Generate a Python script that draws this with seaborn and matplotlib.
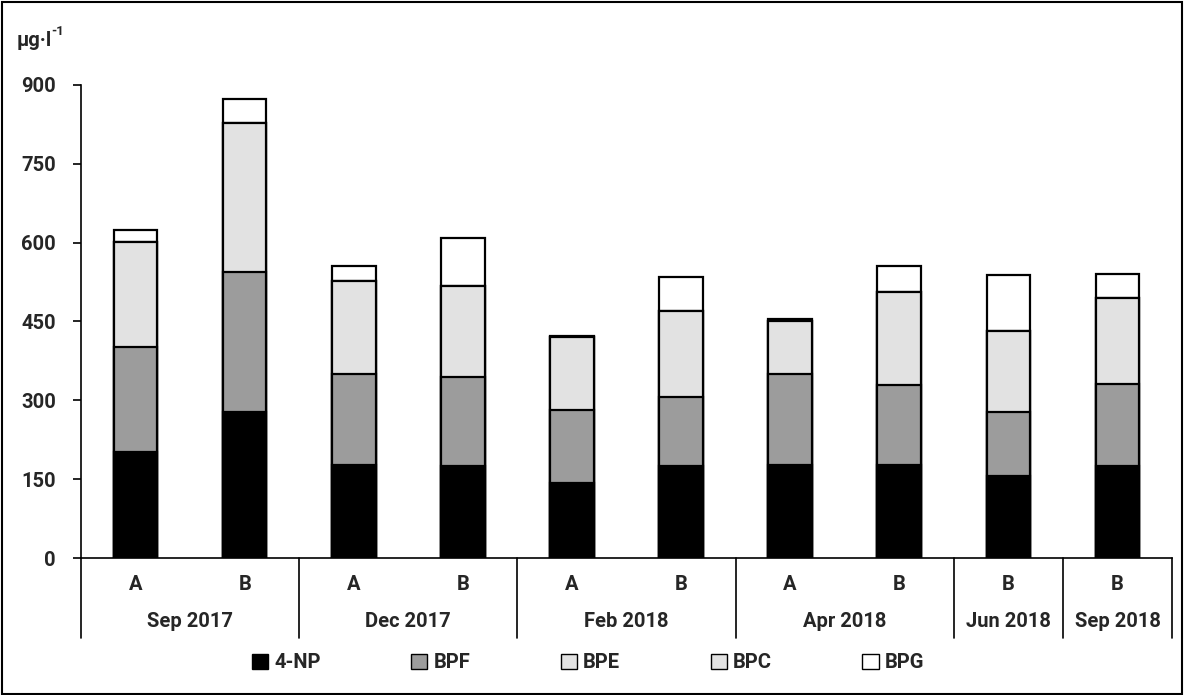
import matplotlib
matplotlib.use("Agg")
import matplotlib.pyplot as plt
import matplotlib.transforms as mtransforms
from matplotlib.patches import Patch, Rectangle
from matplotlib.lines import Line2D
import numpy as np
import pandas as pd
import seaborn as sns

# Sampling campaigns and sites
periods = ["Sep 2017", "Sep 2017", "Dec 2017", "Dec 2017", "Feb 2018", "Feb 2018",
           "Apr 2018", "Apr 2018", "Jun 2018", "Sep 2018"]
sites = ["A", "B", "A", "B", "A", "B", "A", "B", "B", "B"]

# Concentrations (µg/l) per compound
np4 = [202, 278, 177, 175, 142, 175, 177, 177, 156, 176]
bpf = [199, 267, 174, 170, 139, 131, 174, 153, 122, 156]
bpe = [200, 282, 177, 173, 139, 164, 99, 177, 153, 162]
bpc = [0, 0, 0, 0, 0, 0, 0, 0, 0, 0]
bpg = [23, 46, 28, 90, 2, 64, 4, 49, 107, 46]

series_names = ["4-NP", "BPF", "BPE", "BPC", "BPG"]
series_vals = [np4, bpf, bpe, bpc, bpg]
series_colors = ["#000000", "#9c9c9c", "#e2e2e2", "#e2e2e2", "#ffffff"]

sns.set_theme(style="white")
plt.rcParams["font.family"] = ["Roboto", "DejaVu Sans"]
plt.rcParams["font.weight"] = "bold"

FS = 14.5

fig = plt.figure(figsize=(11.84, 6.95), dpi=100)
ax = fig.add_axes([81 / 1184, 1 - 558 / 695, (1172 - 81) / 1184, (558 - 85) / 695])

keys = [f"{p} {s}" for p, s in zip(periods, sites)]
df = pd.DataFrame({"key": keys})
stack = np.cumsum(np.array(series_vals, dtype=float), axis=0)

# Draw stacked bars from the top layer down so each lower segment overlays
for i in range(len(series_names) - 1, -1, -1):
    df["val"] = stack[i]
    sns.barplot(data=df, x="key", y="val", order=keys, color=series_colors[i],
                saturation=1, edgecolor="black", linewidth=1.6, width=0.4,
                errorbar=None, ax=ax)

ax.set_xlim(-0.5, len(keys) - 0.5)
ax.set_ylim(0, 900)
ax.set_yticks(np.arange(0, 901, 150))
ax.tick_params(axis="y", labelsize=FS, length=6, width=1.2, color="black",
               left=True, pad=12)
for lab in ax.get_yticklabels():
    lab.set_fontweight("bold")
ax.set_xticks([])
ax.set_xlabel("")
ax.set_ylabel("")
for s in ["top", "right"]:
    ax.spines[s].set_visible(False)
for s in ["left", "bottom"]:
    ax.spines[s].set_color("black")
    ax.spines[s].set_linewidth(1.2)

trans = mtransforms.blended_transform_factory(ax.transData, ax.transAxes)

# Site letters
for i, s in enumerate(sites):
    ax.text(i, -0.055, s, transform=trans, ha="center", va="center",
            fontsize=FS, fontweight="bold")

# Period labels and separators
groups = []
for i, p in enumerate(periods):
    if groups and groups[-1][0] == p:
        groups[-1][2] = i
    else:
        groups.append([p, i, i])
bounds = [-0.5]
for name, a, b in groups:
    ax.text((a + b) / 2, -0.135, name, transform=trans, ha="center", va="center",
            fontsize=FS, fontweight="bold")
    bounds.append(b + 0.5)
for xb in bounds:
    ax.add_line(Line2D([xb, xb], [0, -0.169], transform=trans, color="black",
                       linewidth=1.2, clip_on=False))

# Unit label
unit = fig.text(17 / 1184, 1 - 40 / 695, "µg·l", ha="left", va="center",
                fontsize=14.5, fontweight="bold")
ax.annotate("-1", xy=(0.97, 0.97), xycoords=unit, ha="left", va="center",
            fontsize=9.5, fontweight="bold")

# Legend
handles = [Patch(facecolor=c, edgecolor="black", linewidth=1.0)
           for c in series_colors]
fig.legend(handles, series_names, loc="center", bbox_to_anchor=(588 / 1184, 1 - 663 / 695),
           ncol=5, frameon=False, handlelength=0.8, handleheight=0.8,
           handletextpad=0.3, columnspacing=4.5,
           prop={"size": FS, "weight": "bold"})

# Outer frame
fig.patches.append(Rectangle((0.0015, 0.002), 0.997, 0.995, transform=fig.transFigure,
                             fill=False, edgecolor="black", linewidth=1.5))

fig.savefig("out.png", dpi=100)
